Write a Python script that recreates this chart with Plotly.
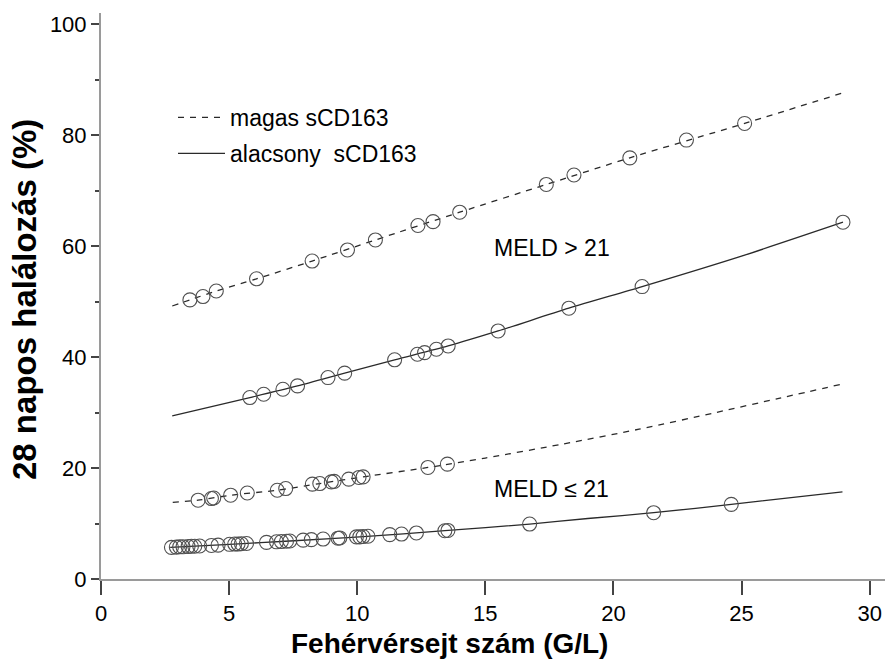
import plotly.graph_objects as go

# ---- data ----
# MELD > 21, high sCD163 (dashed)
hi_high_x = [3.47, 3.98, 4.50, 6.07, 8.24, 9.62, 10.71, 12.37, 12.96, 14.0, 17.38, 18.46, 20.64, 22.85, 25.12]
hi_high_y = [50.3, 50.9, 51.9, 54.1, 57.3, 59.3, 61.1, 63.7, 64.4, 66.1, 71.1, 72.8, 75.9, 79.1, 82.1]
hi_high_line_x = [2.78, 3.47, 4.50, 6.07, 8.24, 10.71, 14.0, 17.38, 20.64, 25.12, 28.95]
hi_high_line_y = [49.2, 50.3, 51.9, 54.1, 57.3, 61.1, 66.1, 71.1, 75.9, 82.1, 87.6]

# MELD > 21, low sCD163 (solid)
hi_low_x = [5.81, 6.35, 7.10, 7.67, 8.86, 9.51, 11.46, 12.35, 12.63, 13.09, 13.55, 15.5, 18.26, 21.12, 28.96]
hi_low_y = [32.7, 33.3, 34.2, 34.8, 36.3, 37.1, 39.5, 40.5, 40.8, 41.4, 42.0, 44.7, 48.8, 52.7, 64.3]
hi_low_line_x = [2.78, 5.81, 7.67, 9.51, 11.46, 13.55, 15.5, 18.26, 21.12, 25.0, 28.96]
hi_low_line_y = [29.4, 32.7, 34.8, 37.1, 39.5, 42.0, 44.7, 48.8, 52.7, 58.2, 64.3]

# MELD <= 21, high sCD163 (dashed)
lo_high_x = [3.79, 4.31, 4.40, 5.06, 5.71, 6.88, 7.21, 8.25, 8.54, 8.99, 9.10, 9.67, 10.07, 10.23, 12.76, 13.52]
lo_high_y = [14.2, 14.5, 14.6, 15.1, 15.5, 16.0, 16.3, 17.1, 17.2, 17.5, 17.6, 18.0, 18.3, 18.4, 20.1, 20.7]
lo_high_line_x = [2.80, 3.79, 5.06, 6.88, 8.54, 10.23, 12.76, 15.0, 18.0, 21.0, 24.0, 26.5, 28.9]
lo_high_line_y = [13.8, 14.2, 15.1, 16.0, 17.2, 18.4, 20.1, 21.8, 24.3, 27.0, 30.0, 32.6, 35.1]

# MELD <= 21, low sCD163 (solid)
lo_low_x = [2.75, 2.94, 3.07, 3.20, 3.40, 3.53, 3.66, 3.85, 4.31, 4.57, 5.02, 5.22, 5.35, 5.48, 5.68,
            6.46, 6.85, 7.04, 7.24, 7.37, 7.89, 8.21, 8.67, 9.25, 9.32, 9.97, 10.10, 10.23, 10.42,
            11.27, 11.73, 12.31, 13.42, 13.54, 16.73, 21.57, 24.60]
lo_low_y = [5.7, 5.75, 5.8, 5.8, 5.85, 5.9, 5.9, 5.95, 6.05, 6.1, 6.25, 6.3, 6.3, 6.35, 6.4,
            6.6, 6.7, 6.75, 6.8, 6.85, 7.0, 7.1, 7.2, 7.35, 7.4, 7.6, 7.6, 7.65, 7.7,
            8.0, 8.1, 8.3, 8.7, 8.75, 9.9, 11.95, 13.45]
lo_low_line_x = [2.70, 5.02, 7.37, 10.10, 13.42, 16.73, 19.0, 21.57, 24.60, 28.94]
lo_low_line_y = [5.7, 6.25, 6.85, 7.6, 8.7, 9.9, 10.9, 11.95, 13.45, 15.7]

x_ticks = [0, 5, 10, 15, 20, 25, 30]
y_ticks = [0, 20, 40, 60, 80, 100]

legend_names = ["magas sCD163", "alacsony  sCD163"]
annot_texts = ["MELD > 21", "MELD ≤ 21"]
annot_pos = [(15.28, 59.6), (15.28, 16.2)]

x_title = "Fehérvérsejt szám (G/L)"
y_title = "28 napos halálozás (%)"

LINE_COLOR = "#2a2a2a"
MARK_COLOR = "#505050"
FONT = "Liberation Sans, Arial, sans-serif"

fig = go.Figure()

def add_line(x, y, dash, name, show, group):
    fig.add_trace(go.Scatter(
        x=x, y=y, mode="lines", name=name, showlegend=show, legendgroup=group,
        line=dict(color=LINE_COLOR, width=1.3, dash=dash, shape="spline", smoothing=0.8),
        hoverinfo="skip"))

def add_markers(x, y):
    fig.add_trace(go.Scatter(
        x=x, y=y, mode="markers", showlegend=False,
        marker=dict(symbol="circle-open", size=14, color=MARK_COLOR, line=dict(width=1.1, color=MARK_COLOR))))

add_line(hi_high_line_x, hi_high_line_y, "6px,6px", legend_names[0], True, "g1")
add_line(lo_high_line_x, lo_high_line_y, "6px,6px", legend_names[0], False, "g1")
add_line(hi_low_line_x, hi_low_line_y, "solid", legend_names[1], True, "g2")
add_line(lo_low_line_x, lo_low_line_y, "solid", legend_names[1], False, "g2")
add_markers(hi_high_x, hi_high_y)
add_markers(hi_low_x, hi_low_y)
add_markers(lo_high_x, lo_high_y)
add_markers(lo_low_x, lo_low_y)

annotations = []
for t, (ax, ay) in zip(annot_texts, annot_pos):
    annotations.append(dict(x=ax, y=ay, xref="x", yref="y", text=t, showarrow=False,
                            xanchor="left", yanchor="middle",
                            font=dict(family=FONT, size=23, color="#000")))
annotations.append(dict(x=(449 - 101) / 784, y=(579 - 643) / 566, xref="paper", yref="paper",
                        text="<b>" + x_title + "</b>",
                        showarrow=False, xanchor="center", yanchor="middle",
                        font=dict(family=FONT, size=28, color="#000")))
annotations.append(dict(x=(24 - 101) / 784, y=(579 - 300) / 566, xref="paper", yref="paper",
                        text="<b>" + y_title + "</b>", textangle=-90, showarrow=False,
                        xanchor="center", yanchor="middle",
                        font=dict(family=FONT, size=33, color="#000")))

fig.update_layout(
    width=887, height=666,
    margin=dict(l=101, r=2, t=13, b=87),
    paper_bgcolor="white", plot_bgcolor="white",
    font=dict(family=FONT, color="#000"),
    showlegend=True,
    legend=dict(x=(173 - 101) / 784, y=(579 - 96) / 566, xanchor="left", yanchor="top",
                bgcolor="rgba(0,0,0,0)", font=dict(family=FONT, size=23),
                tracegroupgap=3, itemwidth=47),
    annotations=annotations,
    xaxis=dict(range=[0, 30.6], showgrid=False, zeroline=False,
               showline=True, linecolor="#9a9a9a", linewidth=2,
               ticks="outside", ticklen=14, tickwidth=2, tickcolor="#444",
               tickvals=x_ticks, ticktext=[str(v) for v in x_ticks],
               tickfont=dict(family=FONT, size=22, color="#000")),
    yaxis=dict(range=[0, 102], showgrid=False, zeroline=False,
               showline=True, linecolor="#9a9a9a", linewidth=2,
               ticks="outside", ticklen=8, tickwidth=2, tickcolor="#444",
               tickvals=y_ticks, ticktext=[str(v) for v in y_ticks],
               tickfont=dict(family=FONT, size=22, color="#000"),
               minor=dict(dtick=10, tick0=0, ticks="outside", ticklen=4, tickwidth=2, tickcolor="#444")),
)

fig.write_html("out.html", config={"displayModeBar": False},
               post_script="document.body.style.margin='0';document.body.style.overflow='hidden';")
